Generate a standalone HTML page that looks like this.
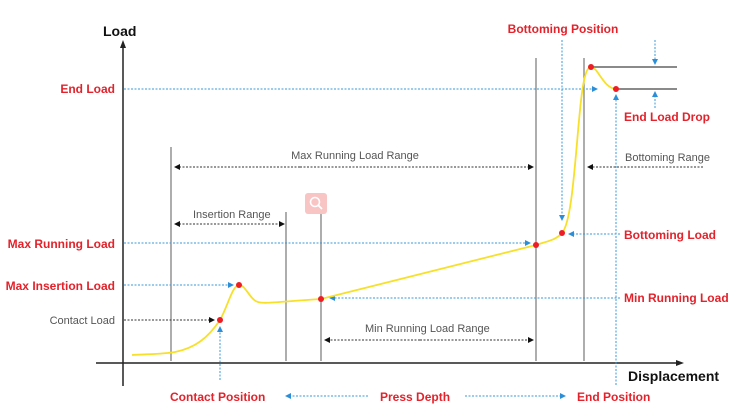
<!DOCTYPE html>
<html><head><style>
html,body{margin:0;padding:0;background:#fff}
svg{display:block}
text{font-family:"Liberation Sans",Arial,sans-serif}
.r{fill:#e3222b;font-weight:bold;font-size:12px}
.g{fill:#555;font-size:11px}
</style></head><body>
<svg width="750" height="420" viewBox="0 0 750 420">
<defs>
<marker id="ab" markerWidth="6" markerHeight="6" refX="5" refY="3" orient="auto"><path d="M0,0L6,3L0,6z" fill="#2a8fd8"/></marker>
<marker id="ak" markerWidth="6" markerHeight="6" refX="5" refY="3" orient="auto"><path d="M0,0L6,3L0,6z" fill="#111"/></marker>
</defs>
<!-- axes -->
<line x1="123" y1="44" x2="123" y2="386" stroke="#222" stroke-width="1.5"/>
<path d="M120,48L123,40L126,48z" fill="#222"/>
<line x1="96" y1="363" x2="680" y2="363" stroke="#222" stroke-width="1.5"/>
<path d="M676,360L684,363L676,366z" fill="#222"/>
<text x="103" y="36" font-size="14" font-weight="bold" fill="#111">Load</text>
<text x="628" y="381" font-size="14" font-weight="bold" fill="#111">Displacement</text>
<!-- gray verticals -->
<g stroke="#777" stroke-width="1.2">
<line x1="171" y1="147" x2="171" y2="361"/>
<line x1="286" y1="212" x2="286" y2="361"/>
<line x1="321" y1="212" x2="321" y2="361"/>
<line x1="536" y1="58" x2="536" y2="361"/>
<line x1="584" y1="58" x2="584" y2="361"/>
</g>
<g stroke="#444" stroke-width="1.2">
<line x1="591" y1="67" x2="677" y2="67"/>
<line x1="616" y1="89" x2="677" y2="89"/>
</g>
<!-- blue dotted -->
<g stroke="#3a9ad9" stroke-width="1" stroke-dasharray="2,1.5" fill="none">
<line x1="124" y1="89" x2="597" y2="89" marker-end="url(#ab)"/>
<line x1="124" y1="243" x2="530" y2="243" marker-end="url(#ab)"/>
<line x1="124" y1="285" x2="233" y2="285" marker-end="url(#ab)"/>
<line x1="620" y1="298" x2="330" y2="298" marker-end="url(#ab)"/>
<line x1="620" y1="234" x2="569" y2="234" marker-end="url(#ab)"/>
<line x1="562" y1="40" x2="562" y2="220" marker-end="url(#ab)"/>
<line x1="616" y1="385" x2="616" y2="95" marker-end="url(#ab)"/>
<line x1="220" y1="380" x2="220" y2="327" marker-end="url(#ab)"/>
<line x1="655" y1="40" x2="655" y2="64" marker-end="url(#ab)"/>
<line x1="655" y1="108" x2="655" y2="92" marker-end="url(#ab)"/>
<line x1="368" y1="396" x2="286" y2="396" marker-end="url(#ab)"/>
<line x1="465" y1="396" x2="565" y2="396" marker-end="url(#ab)"/>
</g>
<!-- black dotted arrows -->
<g stroke="#333" stroke-width="1" stroke-dasharray="2,1.5" fill="none">
<line x1="124" y1="320" x2="214" y2="320" marker-end="url(#ak)"/>
<line x1="300" y1="167" x2="175" y2="167" marker-end="url(#ak)"/>
<line x1="300" y1="167" x2="533" y2="167" marker-end="url(#ak)"/>
<line x1="703" y1="167" x2="588" y2="167" marker-end="url(#ak)"/>
<line x1="230" y1="224" x2="175" y2="224" marker-end="url(#ak)"/>
<line x1="230" y1="224" x2="284" y2="224" marker-end="url(#ak)"/>
<line x1="420" y1="340" x2="325" y2="340" marker-end="url(#ak)"/>
<line x1="420" y1="340" x2="533" y2="340" marker-end="url(#ak)"/>
</g>
<!-- magnifier -->
<rect x="305" y="193" width="22" height="21" rx="3" fill="#f8c4c4"/>
<circle cx="315" cy="202" r="4.5" fill="none" stroke="#fff" stroke-width="1.6"/>
<line x1="318" y1="205" x2="322" y2="209" stroke="#fff" stroke-width="1.8"/>
<!-- curve -->
<path d="M132,355 C150,354 165,354 175,352 C195,348 208,338 220,320 C228,306 232,286 239,285 C245,284 250,300 258,302 C265,304 275,302 321,299 L536,245 C548,241 556,240 562,233 C572,222 575,160 580,110 C583,80 586,67 591,67 C598,67 603,88 616,89" fill="none" stroke="#f7e02a" stroke-width="1.8"/>
<g fill="#ee1c24">
<circle cx="220" cy="320" r="3"/><circle cx="239" cy="285" r="3"/><circle cx="321" cy="299" r="3"/>
<circle cx="536" cy="245" r="3"/><circle cx="562" cy="233" r="3"/><circle cx="591" cy="67" r="3"/><circle cx="616" cy="89" r="3"/>
</g>
<!-- labels -->
<text class="r" x="115" y="93" text-anchor="end">End Load</text>
<text class="r" x="115" y="248" text-anchor="end">Max Running Load</text>
<text class="r" x="115" y="290" text-anchor="end">Max Insertion Load</text>
<text class="g" x="115" y="324" text-anchor="end">Contact Load</text>
<text class="r" x="563" y="33" text-anchor="middle">Bottoming Position</text>
<text class="r" x="624" y="121">End Load Drop</text>
<text class="r" x="624" y="239">Bottoming Load</text>
<text class="r" x="624" y="302">Min Running Load</text>
<text class="r" x="170" y="401">Contact Position</text>
<text class="r" x="380" y="401">Press Depth</text>
<text class="r" x="577" y="401">End Position</text>
<text class="g" x="355" y="159" text-anchor="middle">Max Running Load Range</text>
<text class="g" x="625" y="161">Bottoming Range</text>
<text class="g" x="193" y="218">Insertion Range</text>
<text class="g" x="365" y="332">Min Running Load Range</text>
</svg>
</body></html>
